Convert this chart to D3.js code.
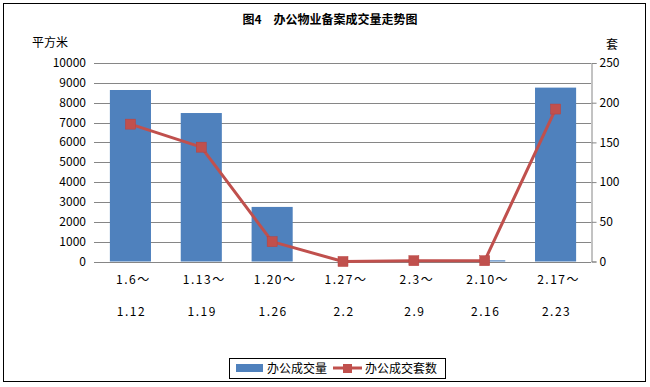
<!DOCTYPE html>
<html>
<head>
<meta charset="utf-8">
<script src="https://cdn.jsdelivr.net/npm/d3@7"></script>
<style>
  body { margin: 0; background: #fff; }
  svg text { font-family: "Noto Sans CJK SC", sans-serif; fill: #000; }
</style>
</head>
<body>
<svg id="chart"></svg>
<script>
var weeks = ["1.6～", "1.13～", "1.20～", "1.27～", "2.3～", "2.10～", "2.17～"]
var weekEnds = ["1.12", "1.19", "1.26", "2.2", "2.9", "2.16", "2.23"]
var area = [8640, 7480, 2750, 0, 0, 60, 8760]
var units = [173, 144, 25, 0, 1, 1, 192]
var leftTicks = [0, 1000, 2000, 3000, 4000, 5000, 6000, 7000, 8000, 9000, 10000]
var rightTicks = [0, 50, 100, 150, 200, 250]

var dimensions = {
    width: 650,
    height: 387,
    margin: { top: 63, bottom: 125.5, left: 95, right: 59 }
}

var svg = d3.select("#chart")
    .attr("width", dimensions.width)
    .attr("height", dimensions.height)

// outer frame
svg.append("rect")
    .attr("x", 3.5).attr("y", 3.5)
    .attr("width", 642).attr("height", 378)
    .attr("fill", "none")
    .attr("stroke", "#000")
    .attr("stroke-width", 1)

var x0 = dimensions.margin.left
var x1 = dimensions.width - dimensions.margin.right
var yBottom = dimensions.height - dimensions.margin.bottom

var xScale = d3.scaleBand()
    .domain(weeks)
    .range([x0, x1])
    .paddingInner(0.42)
    .paddingOuter(0.21)

var yLeft = d3.scaleLinear()
    .domain([0, 10000])
    .range([yBottom, dimensions.margin.top])

var yRight = d3.scaleLinear()
    .domain([0, 250])
    .range([yBottom, dimensions.margin.top])

// gridlines
svg.append("g")
    .selectAll("line")
    .data(leftTicks)
    .enter()
    .append("line")
    .attr("x1", x0 - 1)
    .attr("x2", x1)
    .attr("y1", function (d) { return Math.round(yLeft(d)) + 0.5 })
    .attr("y2", function (d) { return Math.round(yLeft(d)) + 0.5 })
    .attr("stroke", "#868686")
    .attr("stroke-width", 1)

// left labels
svg.append("g")
    .selectAll("text")
    .data(leftTicks)
    .enter()
    .append("text")
    .attr("x", 86)
    .attr("y", function (d) { return yLeft(d) + 4 })
    .attr("text-anchor", "end")
    .style("font-size", "12px")
    .text(function (d) { return d })

// right axis
var rightAxis = d3.axisRight(yRight)
    .tickValues(rightTicks)
    .tickSize(5)
    .tickPadding(3)

var ra = svg.append("g")
    .attr("transform", "translate(" + (Math.round(x1) + 0.5) + ",0)")
    .call(rightAxis)
ra.select(".domain").attr("stroke", "#868686")
ra.selectAll(".tick line").attr("stroke", "#868686")
ra.selectAll(".tick text")
    .style("font-size", "12px")
    .style("font-family", "'Noto Sans CJK SC', sans-serif")
    .attr("fill", "#000")

// bars
svg.append("g")
    .selectAll("rect")
    .data(area)
    .enter()
    .append("rect")
    .attr("x", function (d, i) { return xScale(weeks[i]) })
    .attr("width", xScale.bandwidth())
    .attr("y", function (d) { return yLeft(d) })
    .attr("height", function (d) { return yBottom - yLeft(d) })
    .attr("fill", "#4F81BD")

// line
var line = d3.line()
    .x(function (d, i) { return xScale(weeks[i]) + xScale.bandwidth() / 2 })
    .y(function (d) { return yRight(d) })

svg.append("path")
    .attr("d", line(units))
    .attr("fill", "none")
    .attr("stroke", "#C0504D")
    .attr("stroke-width", 3)
    .attr("stroke-linejoin", "round")

svg.append("g")
    .selectAll("rect")
    .data(units)
    .enter()
    .append("rect")
    .attr("x", function (d, i) { return xScale(weeks[i]) + xScale.bandwidth() / 2 - 5 })
    .attr("y", function (d) { return yRight(d) - 5 })
    .attr("width", 10)
    .attr("height", 10)
    .attr("fill", "#C0504D")
    .attr("stroke", "#B9413E")
    .attr("stroke-width", 0.5)

// category labels, two rows
var cats = svg.append("g")
cats.selectAll("text.top")
    .data(weeks)
    .enter()
    .append("text")
    .attr("class", "top")
    .attr("x", function (d) { return xScale(d) + xScale.bandwidth() / 2 + 3 })
    .attr("y", 284)
    .attr("text-anchor", "middle")
    .style("font-size", "12px")
    .style("letter-spacing", "1.5px")
    .text(function (d) { return d })
cats.selectAll("text.bottom")
    .data(weekEnds)
    .enter()
    .append("text")
    .attr("class", "bottom")
    .attr("x", function (d, i) { return xScale(weeks[i]) + xScale.bandwidth() / 2 + 1 })
    .attr("y", 316)
    .attr("text-anchor", "middle")
    .style("font-size", "12px")
    .style("letter-spacing", "1.5px")
    .text(function (d) { return d })

// titles
svg.append("text")
    .attr("x", 330)
    .attr("y", 24)
    .attr("text-anchor", "middle")
    .style("font-size", "12px")
    .style("font-weight", "bold")
    .text("图4　办公物业备案成交量走势图")

svg.append("text")
    .attr("x", 32)
    .attr("y", 47)
    .style("font-size", "12px")
    .text("平方米")

svg.append("text")
    .attr("x", 606)
    .attr("y", 49)
    .style("font-size", "12px")
    .text("套")

// legend
var legend = svg.append("g")
legend.append("rect")
    .attr("x", 229.5).attr("y", 358.5)
    .attr("width", 216).attr("height", 20)
    .attr("fill", "#fff")
    .attr("stroke", "#000")
legend.append("rect")
    .attr("x", 236).attr("y", 364)
    .attr("width", 27).attr("height", 8)
    .attr("fill", "#4F81BD")
legend.append("text")
    .attr("x", 267).attr("y", 373)
    .style("font-size", "12px")
    .text("办公成交量")
legend.append("line")
    .attr("x1", 333).attr("x2", 362)
    .attr("y1", 368).attr("y2", 368)
    .attr("stroke", "#C0504D")
    .attr("stroke-width", 3)
legend.append("rect")
    .attr("x", 343).attr("y", 364)
    .attr("width", 9).attr("height", 9)
    .attr("fill", "#C0504D")
legend.append("text")
    .attr("x", 365).attr("y", 373)
    .style("font-size", "12px")
    .text("办公成交套数")
</script>
</body>
</html>
